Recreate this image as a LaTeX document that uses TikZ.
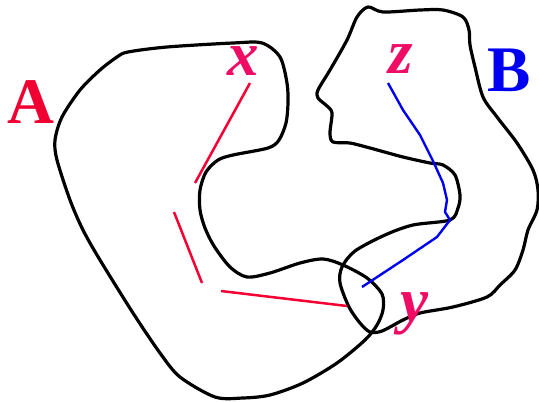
\documentclass[tikz,border=0pt]{standalone}
\usepackage{fontspec}
\setmainfont{Liberation Serif}
\definecolor{setred}{RGB}{240,0,50}
\definecolor{labpink}{RGB}{238,12,100}
\definecolor{segred}{RGB}{245,0,50}
\definecolor{pathblue}{RGB}{0,0,240}
\begin{document}
\begin{tikzpicture}[x=1pt,y=-1pt,
  region/.style={draw=black,line width=3.2pt,line join=round},
  setlabel/.style={inner sep=0pt,anchor=base,font=\fontsize{65}{65}\selectfont\bfseries},
  ptlabel/.style={inner sep=0pt,anchor=base,text=labpink,font=\fontsize{63}{63}\selectfont\bfseries\itshape},
  redseg/.style={draw=segred,line width=2.5pt},
  bluepath/.style={draw=pathblue,line width=2.4pt,line join=round}]
\useasboundingbox (0,0) rectangle (539,402);
% region A
\draw[region] plot[smooth cycle,tension=0.5] coordinates {
(128,52) (167,47) (233,43) (262,43) (280,57) (287,83) (288,103) (286,123)
(279,140) (268,148) (233,155) (218,160) (206,172) (200,190) (200,210)
(205,228) (214,246) (230,267) (247,277) (270,273) (300,263) (323,259)
(343,265) (367,278) (382,294) (383,310) (377,325) (365,340) (337,363)
(303,383) (270,395) (243,398) (215,397) (180,377) (160,353) (133,313)
(100,260) (83,230) (70,200) (57,160) (55,140) (62,117) (80,90) (100,70) (117,57)};
% region B
\draw[region] plot[smooth cycle,tension=0.5] coordinates {
(368,7) (383,12) (420,10) (443,10) (463,17) (469,30) (470,45) (475,67)
(483,97) (497,117) (517,143) (533,170) (538,190) (537,210) (528,230)
(523,250) (515,270) (500,285) (487,297) (453,307) (420,313) (403,320)
(382,331) (370,332) (360,323) (349,307) (340,283) (342,267) (355,251)
(385,235) (413,225) (450,220) (458,208) (460,195) (455,175) (443,165)
(430,163) (403,157) (370,148) (350,143) (333,142) (330,133) (332,113)
(327,106) (318,98) (318,90) (330,70) (347,40) (357,17)};
% labels
\node[setlabel,text=setred] (A) at (31,123) {A};
\node[setlabel,text=pathblue] (B) at (509,91) {B};
\node[ptlabel] (x) at (243,75) {x};
\node[ptlabel] (z) at (401,73) {z};
\node[ptlabel] (y) at (414,321) {y};
% red broken path
\coordinate (r1) at (250,83);
\coordinate (r2) at (195,183);
\coordinate (r3) at (174,212);
\coordinate (r4) at (202,283);
\coordinate (r5) at (221,291);
\coordinate (r6) at (347,306);
\draw[redseg] (r1) -- (r2);
\draw[redseg] (r3) -- (r4);
\draw[redseg] (r5) -- (r6);
% blue path
\coordinate (b0) at (388,83);
\coordinate (b1) at (362,287);
\draw[bluepath] (b0) -- (403,110) -- (420,135) -- (433,161) -- (443,183)
  -- (447,200) -- (445,212) -- (450,220) -- (437,237) -- (403,260) -- (b1);
\end{tikzpicture}
\end{document}
